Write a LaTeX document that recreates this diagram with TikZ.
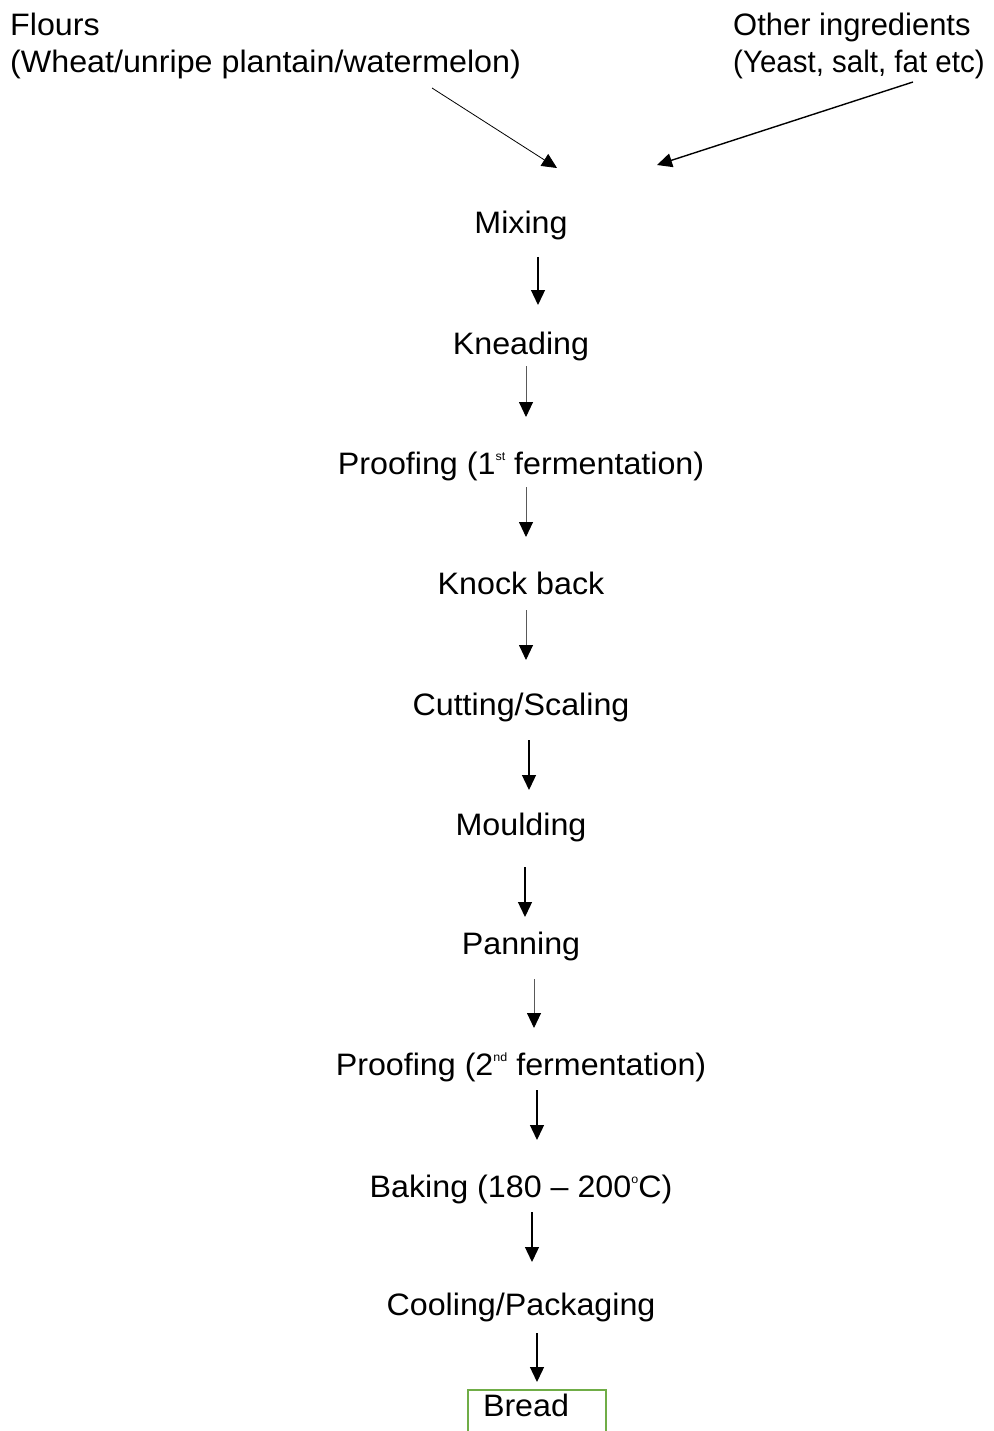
\documentclass[tikz,border=0pt]{standalone}
\usepackage{fontspec}
\setmainfont[FakeStretch=1.04]{Liberation Sans}
\usetikzlibrary{arrows.meta,calc}
\definecolor{boxgreen}{HTML}{70AD47}
\newcommand\supx[1]{\raisebox{0.42em}{\fontsize{12}{12}\selectfont #1}}
\begin{document}
\begin{tikzpicture}[x=1pt,y=1pt,
  lbl/.style={inner sep=0pt,font=\fontsize{31}{37}\selectfont},
  stepnode/.style={lbl,anchor=base},
  arr/.style={line width=1.3pt,-{Triangle[width=14pt,length=15pt]}},
  thinarr/.style={line width=0.9pt,draw=black!65,-{Triangle[width=14pt,length=15pt,color=black]}},
  breadbox/.style={lbl,draw=boxgreen,line width=2pt,anchor=north west,minimum width=138pt,
     inner xsep=15pt,inner ysep=4pt,text height=22pt,text depth=18pt,text width=108pt,align=left}]
\useasboundingbox (0,0) rectangle (993,-1431);
\fill[white] (0,0) rectangle (993,-1431);
% inputs
\node[lbl,anchor=base west,align=left] (flours) at (10,-73) {Flours\\(Wheat/unripe plantain/watermelon)};
\node[lbl,anchor=base west,align=left] (other) at (733,-73) {\scalebox{0.96}[1]{Other ingredients}\\\scalebox{0.915}[1]{(Yeast, salt, fat etc)}};
\coordinate (inL) at (557,-168);
\coordinate (inR) at (657,-165);
\draw[line width=0.8pt,-{Triangle[width=14pt,length=15pt]}] ($(flours.base west)+(422,-15)$) -- (inL);
\draw[line width=1.4pt,-{Triangle[width=14pt,length=15pt]}] ($(other.base west)+(180,-9)$) -- (inR);
% steps
\node[stepnode] (s1) at (521,-234) {Mixing};
\node[stepnode] (s2) at (521,-354) {Kneading};
\node[stepnode] (s3) at (521,-474) {Proofing (1\supx{st} fermentation)};
\node[stepnode] (s4) at (521,-594) {Knock back};
\node[stepnode] (s5) at (521,-715) {Cutting/Scaling};
\node[stepnode] (s6) at (521,-835) {Moulding};
\node[stepnode] (s7) at (521,-954) {Panning};
\node[stepnode] (s8) at (521,-1075) {Proofing (2\supx{nd} fermentation)};
\node[stepnode] (s9) at (521,-1197) {Baking (180 – 200\supx{o}C)};
\node[stepnode] (s10) at (521,-1315) {Cooling/Packaging};
\node[breadbox] (bread) at (467,-1389) {Bread};
% connectors
\draw[arr] ($(s1.base)+(17,-23)$) -- ($(s2.base)+(17,49)$);
\draw[thinarr] ($(s2.base)+(5,-12)$) -- ($(s3.base)+(5,57)$);
\draw[thinarr] ($(s3.base)+(5,-13)$) -- ($(s4.base)+(5,57)$);
\draw[thinarr] ($(s4.base)+(5,-16)$) -- ($(s5.base)+(5,55)$);
\draw[arr] ($(s5.base)+(8,-25)$) -- ($(s6.base)+(8,45)$);
\draw[arr] ($(s6.base)+(4,-32)$) -- ($(s7.base)+(4,37)$);
\draw[thinarr] ($(s7.base)+(13,-25)$) -- ($(s8.base)+(13,47)$);
\draw[arr] ($(s8.base)+(16,-15)$) -- ($(s9.base)+(16,57)$);
\draw[arr] ($(s9.base)+(11,-15)$) -- ($(s10.base)+(11,53)$);
\draw[arr] ($(bread.north |- s10.base)+(0,-18)$) -- ($(bread.north)+(0,7)$);
\end{tikzpicture}
\end{document}
